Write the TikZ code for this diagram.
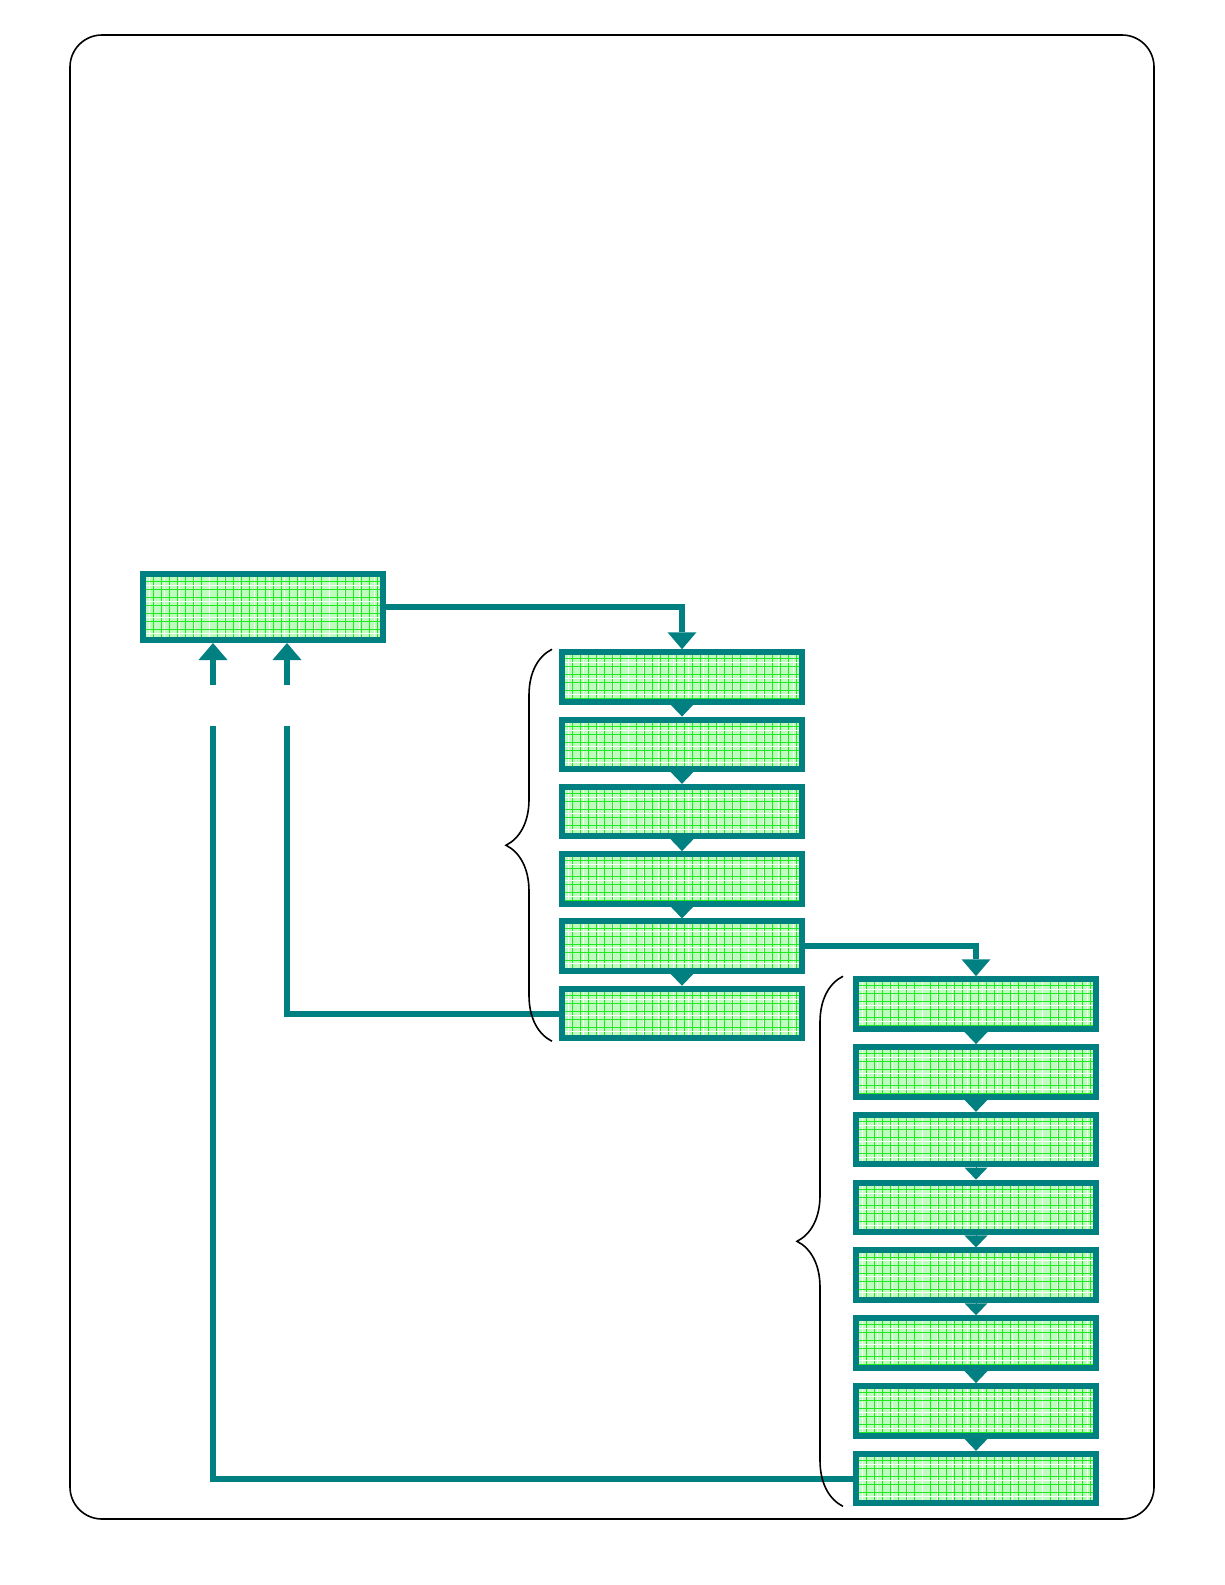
\documentclass[tikz,border=0pt]{standalone}
\usetikzlibrary{arrows.meta,decorations.pathreplacing}
\definecolor{linkteal}{RGB}{0,128,128}
\definecolor{cellfill}{RGB}{192,252,192}
\definecolor{cellgrid}{RGB}{30,235,30}
\tikzset{
  gridded/.style={path picture={
    \foreach \gx in {2,10,...,250}
      \draw[cellgrid, line width=0.8pt] ([xshift=\gx pt]path picture bounding box.south west) -- ++(0pt,80pt);
    \foreach \gx in {6,21,...,250}
      \draw[white, line width=1pt] ([xshift=\gx pt]path picture bounding box.south west) -- ++(0pt,80pt);
    \foreach \gy in {3,11,...,75}
      \draw[cellgrid, line width=0.8pt] ([yshift=\gy pt]path picture bounding box.south west) -- ++(250pt,0pt);
    \foreach \gy in {7,23,...,79}
      \draw[white, line width=1pt] ([yshift=\gy pt]path picture bounding box.south west) -- ++(250pt,0pt);
  }},
  stage/.style={draw=linkteal, line width=6pt, fill=cellfill, gridded,
    inner sep=0pt, minimum width=240pt, minimum height=49.5pt},
  link/.style={draw=linkteal, line width=6pt},
  feed/.style={link, -{Triangle[width=29pt,length=17pt,line width=0pt]}},
  chain/.style={draw=linkteal, line width=1pt, -{Triangle[width=23pt,length=12pt,line width=0pt]}},
  group/.style={draw=black, line width=1.6pt, decorate, decoration={brace, amplitude=46pt}}
}
\begin{document}
\begin{tikzpicture}[x=1pt,y=-1pt]
  \useasboundingbox (0,0) rectangle (1225,1585);
  \draw[rounded corners=32pt, line width=1.6pt] (70,35) rectangle (1154,1519);

  \node[stage, minimum height=66pt] (top) at (263,607) {};
  \foreach \i in {1,...,6}
    \node[stage] (a\i) at (682,{677+(\i-1)*67.3}) {};
  \foreach \i in {1,...,8}
    \node[stage] (b\i) at (976,{1004+(\i-1)*67.8}) {};

  \foreach \i [count=\j from 2] in {1,...,5}
    \draw[chain] (a\i.south) -- (a\j.north);
  \foreach \i [count=\j from 2] in {1,...,7}
    \draw[chain] (b\i.south) -- (b\j.north);

  \draw[feed] (top.east) -| (a1.north);
  \draw[feed] (a5.east) -| (b1.north);

  \coordinate (upl) at (213,685);
  \coordinate (upr) at (287,685);
  \coordinate (backl) at (213,726);
  \coordinate (backr) at (287,726);
  \draw[feed] (upl) -- (upl |- top.south);
  \draw[feed] (upr) -- (upr |- top.south);
  \draw[link] (backr) |- (a6.west);
  \draw[link] (backl) |- (b8.west);

  \draw[group] ([xshift=-7pt]a6.south west) -- ([xshift=-7pt]a1.north west);
  \draw[group] ([xshift=-10pt]b8.south west) -- ([xshift=-10pt]b1.north west);
\end{tikzpicture}
\end{document}
